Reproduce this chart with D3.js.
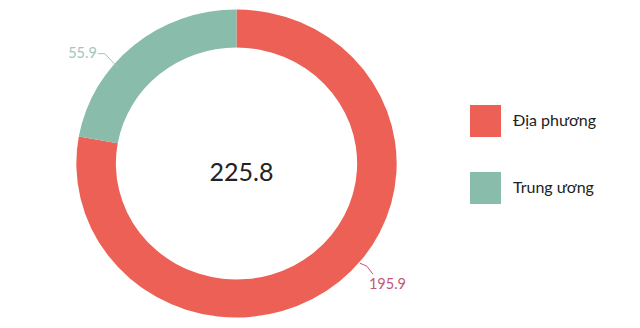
<!DOCTYPE html>
<html>
<head>
<meta charset="utf-8">
<script src="https://cdn.jsdelivr.net/npm/d3@7"></script>
<style>
  html, body { margin: 0; padding: 0; background: #fff; }
  svg { display: block; font-family: Lato, "Open Sans", sans-serif; }
</style>
</head>
<body>
<svg id="chart" width="640" height="328"></svg>
<script>
// data
const categories = ["Địa phương", "Trung ương"];
const values = [195.9, 55.9];
const totalLabel = "225.8";
const colors = ["#ec6055", "#89bcaa"];
const labelColors = ["#c2577a", "#a3c4bc"];

const width = 640, height = 328;
const cx = 236.5, cy = 163.5;
const outerR = 154, innerR = 116;
const sx = 1.04; // reference is a touch wider than tall

const svg = d3.select("#chart");

const pie = d3.pie().sort(null).value(d => d.value);
const arcs = pie(categories.map((c, i) => ({ name: c, value: values[i], i: i })));

const arc = d3.arc().innerRadius(innerR).outerRadius(outerR);

const g = svg.append("g")
  .attr("transform", "translate(" + cx + "," + cy + ") scale(" + sx + ",1)");

g.selectAll("path")
  .data(arcs)
  .enter().append("path")
  .attr("d", arc)
  .attr("fill", d => colors[d.data.i]);

// center total
svg.append("text")
  .attr("x", cx + 5)
  .attr("y", cy + 17)
  .attr("text-anchor", "middle")
  .attr("font-size", 25)
  .attr("fill", "#222")
  .text(totalLabel);

// outside labels with leader lines
const shift = -10 * Math.PI / 180;
arcs.forEach(d => {
  const a = (d.startAngle + d.endAngle) / 2 + shift;
  const left = Math.sin(a) < 0;
  const r = left ? outerR - 5 : outerR + 1;
  const p0 = [cx + Math.sin(a) * r * sx, cy - Math.cos(a) * r];
  let p1, p2, tx, ty, anchor;
  if (left) {
    p1 = [p0[0] - 13, p0[1] - 14];
    p2 = [p1[0] - 7, p1[1]];
    tx = p2[0] - 1; ty = p2[1] + 4; anchor = "end";
  } else {
    p1 = [p0[0] + 7, p0[1] + 3];
    p2 = [p1[0] + 6, p1[1] + 8];
    tx = p2[0] - 4; ty = p2[1] + 15; anchor = "start";
  }
  svg.append("polyline")
    .attr("points", [p0, p1, p2].map(p => p.join(",")).join(" "))
    .attr("fill", "none")
    .attr("stroke", labelColors[d.data.i])
    .attr("stroke-width", 1);
  svg.append("text")
    .attr("x", tx)
    .attr("y", ty)
    .attr("text-anchor", anchor)
    .attr("font-size", 14.5)
    .attr("fill", labelColors[d.data.i])
    .text(d.data.value);
});

// legend
const legend = svg.append("g").attr("transform", "translate(470,105)");
const item = legend.selectAll("g")
  .data(categories)
  .enter().append("g")
  .attr("transform", (d, i) => "translate(0," + i * 67 + ")");
item.append("rect")
  .attr("width", 31)
  .attr("height", 32)
  .attr("fill", (d, i) => colors[i]);
item.append("text")
  .attr("x", 43)
  .attr("y", 21)
  .attr("font-size", 16)
  .attr("fill", "#222")
  .text(d => d);
</script>
</body>
</html>
